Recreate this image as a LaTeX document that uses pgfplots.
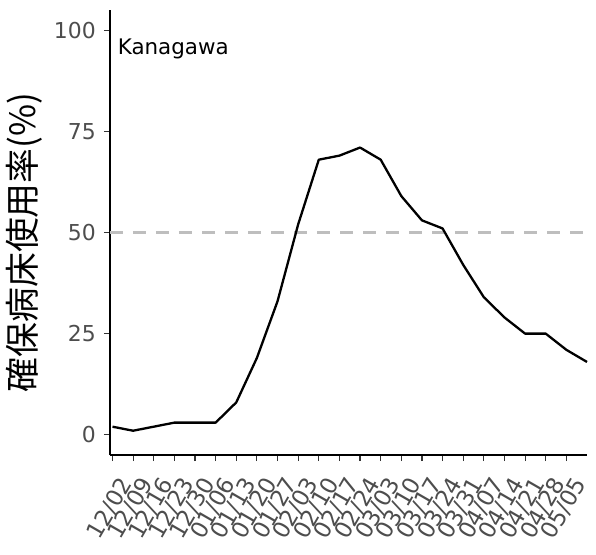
\documentclass[border=0pt]{standalone}
\usepackage{fontspec}
\setmainfont{DejaVu Sans}
\newfontfamily\cjk{Noto Sans CJK JP}
\usepackage{pgfplots}
\pgfplotsset{compat=1.18}
\definecolor{tickgrey}{HTML}{4D4D4D}
\definecolor{tickline}{HTML}{333333}
\definecolor{refgrey}{HTML}{BEBEBE}
\begin{document}
\begin{tikzpicture}
\begin{axis}[
  name=main,
  scale only axis,
  width=477bp, height=445bp,
  xmin=-0.12, xmax=23,
  ymin=-5, ymax=105,
  axis x line*=bottom, axis y line*=left,
  axis line style={black, line width=1.3bp, -},
  tick align=outside,
  major tick length=6bp,
  every tick/.style={tickline, line width=1.2bp},
  xtick={0,1,...,22},
  xticklabels={12/02,12/09,12/16,12/23,12/30,01/06,01/13,01/20,01/27,02/03,02/10,02/17,02/24,03/03,03/10,03/17,03/24,03/31,04/07,04/14,04/21,04/28,05/05},
  ytick={0,25,50,75,100},
  /pgf/number format/assume math mode=true,
  tick label style={text=tickgrey},
  x tick label style={font=\fontsize{23}{25}\selectfont, xshift=5bp, yshift=-11bp, rotate=60, anchor=north east, inner sep=2bp},
  y tick label style={font=\fontsize{22}{24}\selectfont, xshift=-5bp, inner sep=3bp},
  clip=false,
]
\addplot[refgrey, line width=2.3bp, dash pattern=on 13bp off 10bp, forget plot] coordinates {(-0.12,50) (23,50)};
\addplot[black, line width=2.3bp, line join=round] coordinates {
(0,2) (1,1) (2,2) (3,3) (4,3) (5,3) (6,8) (7,19) (8,33) (9,52) (10,68) (11,69)
(12,71) (13,68) (14,59) (15,53) (16,51) (17,42) (18,34) (19,29) (20,25) (21,25) (22,21) (23,18)
};
\node[anchor=west, inner sep=0pt, font=\fontsize{21.5}{23}\selectfont] at (axis cs:0.25,95.5) {Kanagawa};
\end{axis}
\node[rotate=90, font=\cjk\fontsize{35}{38}\selectfont] at ([xshift=-86bp,yshift=-10bp]main.west) {確保病床使用率(\%)};
\pgfresetboundingbox
\path[use as bounding box] ([xshift=-110bp,yshift=-100bp]main.south west) rectangle ([xshift=9bp,yshift=10bp]main.north east);
\end{tikzpicture}
\end{document}
